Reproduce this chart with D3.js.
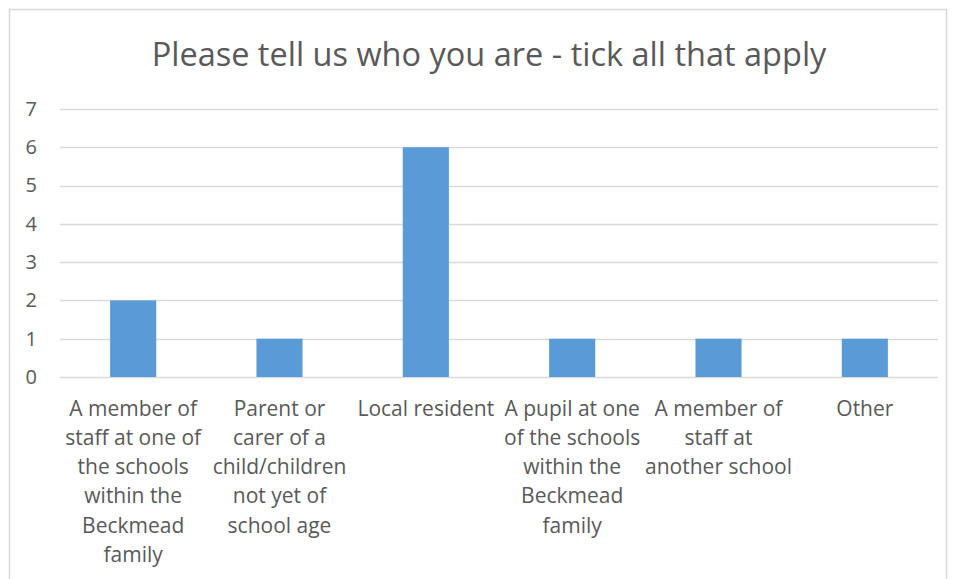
<!DOCTYPE html>
<html>
<head>
<meta charset="utf-8">
<script src="https://cdn.jsdelivr.net/npm/d3@7"></script>
<style>
  html, body { margin: 0; padding: 0; background: #fff; }
  svg { display: block; font-family: "Open Sans", Lato, sans-serif; }
</style>
</head>
<body>
<svg id="chart" width="955" height="579"></svg>
<script>
// Survey responses: who answered
const chartTitle = "Please tell us who you are - tick all that apply";
const categories = [
  "A member of staff at one of the schools within the Beckmead family",
  "Parent or carer of a child/children not yet of school age",
  "Local resident",
  "A pupil at one of the schools within the Beckmead family",
  "A member of staff at another school",
  "Other"
];
const counts = [2, 1, 6, 1, 1, 1];
const yTicks = [0, 1, 2, 3, 4, 5, 6, 7];

const W = 955, H = 579;
const margin = { left: 60, right: 17, top: 109, bottom: 202 };
const FONT = "'Open Sans', Lato, sans-serif";
const svg = d3.select("#chart");

// Outer frame
svg.append("rect")
  .attr("x", 9.5).attr("y", 9.5)
  .attr("width", 937).attr("height", 600)
  .attr("fill", "#fff").attr("stroke", "#d9d9d9").attr("stroke-width", 1.5);

const x = d3.scaleBand()
  .domain(categories)
  .range([margin.left, W - margin.right])
  .paddingInner(0.685).paddingOuter(0.3425);

const y = d3.scaleLinear()
  .domain([0, 7])
  .range([H - margin.bottom, margin.top]);

// Gridlines
svg.append("g")
  .selectAll("line")
  .data(yTicks)
  .join("line")
  .attr("x1", margin.left).attr("x2", W - margin.right)
  .attr("y1", d => Math.round(y(d)) + 0.5).attr("y2", d => Math.round(y(d)) + 0.5)
  .attr("stroke", "#d9d9d9").attr("stroke-width", 1.3);

// Y axis labels
const yAxis = d3.axisLeft(y).tickValues(yTicks).tickSize(0).tickPadding(0).tickFormat(d3.format("d"));
const gy = svg.append("g").attr("transform", `translate(37,0)`).call(yAxis);
gy.select(".domain").remove();
gy.selectAll("text")
  .attr("fill", "#595959")
  .style("font-size", "20px")
  .style("font-family", FONT);

// Bars
svg.append("g")
  .selectAll("rect")
  .data(categories.map((c, i) => ({ c, v: counts[i] })))
  .join("rect")
  .attr("x", d => x(d.c))
  .attr("width", x.bandwidth())
  .attr("y", d => y(d.v))
  .attr("height", d => y(0) - y(d.v))
  .attr("fill", "#5b9bd5");

// X axis labels with word wrapping inside each category slot
const xAxis = d3.axisBottom(x).tickSize(0).tickPadding(0);
const gx = svg.append("g").attr("transform", `translate(0,${y(0)})`).call(xAxis);
gx.select(".domain").remove();
const wrapWidth = 147;
const lineH = 29.3;
gx.selectAll("text")
  .attr("fill", "#595959")
  .style("font-size", "21px")
  .style("font-family", FONT)
  .attr("dy", null)
  .each(function(d) {
    const t = d3.select(this);
    const words = d.split(" ");
    t.text(null);
    let line = [];
    let tspan = t.append("tspan").attr("x", 0).attr("y", 38.5);
    let n = 0;
    for (const w of words) {
      line.push(w);
      tspan.text(line.join(" "));
      if (tspan.node().getComputedTextLength() > wrapWidth && line.length > 1) {
        line.pop();
        tspan.text(line.join(" "));
        line = [w];
        n++;
        tspan = t.append("tspan").attr("x", 0).attr("y", 38.5 + n * lineH).text(w);
      }
    }
  });

// Title
svg.append("text")
  .attr("x", 489).attr("y", 66)
  .attr("text-anchor", "middle")
  .attr("fill", "#595959")
  .style("font-size", "32.5px")
  .text(chartTitle);
</script>
</body>
</html>
